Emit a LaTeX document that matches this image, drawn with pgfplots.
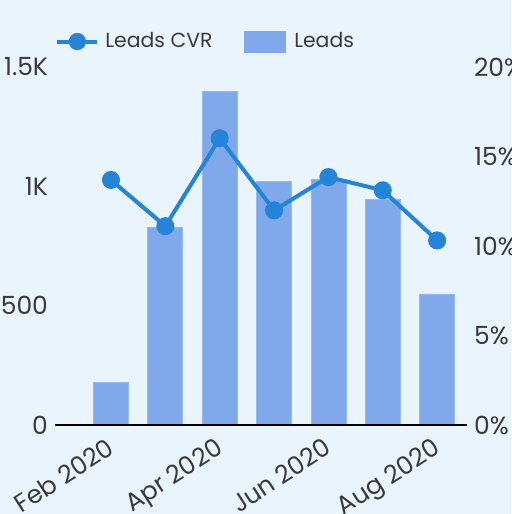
\documentclass[border=0pt]{standalone}
\usepackage{pgfplots}
\pgfplotsset{compat=1.18}
\usepackage{fontspec}
\setmainfont{Poppins}
\definecolor{bgcol}{RGB}{234,244,253}
\definecolor{barcol}{RGB}{127,169,235}
\definecolor{baredge}{RGB}{150,185,240}
\definecolor{linecol}{RGB}{38,132,216}
\definecolor{txtcol}{RGB}{58,58,58}
\begin{document}
\begin{tikzpicture}
\fill[bgcol] (-27.5pt,-44.5pt) rectangle (228pt,212.5pt);
\begin{axis}[
  at={(0,0)}, anchor=south west,
  scale only axis, width=206pt, height=179pt,
  xmin=-1.03, xmax=6.55, ymin=0, ymax=1500,
  axis line style={draw=none}, tick style={draw=none},
  ytick={0,500,1000,1500}, yticklabels={0,500,1K,1.5K},
  xtick={0,2,4,6}, xticklabels={Feb 2020,Apr 2020,Jun 2020,Aug 2020},
  x tick label style={rotate=33, anchor=north east, xshift=-2pt},
  tick label style={font=\fontsize{12.5}{14}\selectfont, text=txtcol},
  /pgf/number format/assume math mode=true,
]
\addplot[ybar, bar width=17.5pt, fill=barcol, draw=baredge, line width=0.4pt] coordinates {
(0,179) (1,826) (2,1398) (3,1021) (4,1029) (5,945) (6,549)};
\end{axis}
\begin{axis}[
  at={(0,0)}, anchor=south west,
  scale only axis, width=206pt, height=179pt,
  xmin=-1.03, xmax=6.55, ymin=0, ymax=20,
  axis line style={draw=none}, tick style={draw=none},
  xtick=\empty,
  ytick={0,5,10,15,20}, yticklabels={0\%,5\%,10\%,15\%,20\%},
  yticklabel pos=right,
  tick label style={font=\fontsize{12.5}{14}\selectfont, text=txtcol},
  /pgf/number format/assume math mode=true,
  legend columns=2,
  legend style={at={(axis description cs:0.0,1.0712)}, anchor=west, draw=none, fill=none, inner sep=0pt,
    font=\fontsize{10.2}{12}\selectfont, text=txtcol,
    /tikz/every even column/.append style={column sep=14pt}},
]
\draw[black, line width=1.25pt] (rel axis cs:0,0) -- (rel axis cs:1,0);
\addplot[linecol, line width=2pt, mark=*, mark size=3.5pt, mark options={draw=none, fill=linecol},
  legend image code/.code={\draw[linecol, line width=2pt] (0pt,0pt) -- (20pt,0pt); \fill[linecol] (10pt,0pt) circle (3.3pt); \path (21pt,0pt);}]
coordinates {(0,13.69) (1,11.11) (2,16.02) (3,11.99) (4,13.85) (5,13.11) (6,10.31)};
\addlegendentry{Leads CVR}
\addlegendimage{legend image code/.code={\fill[barcol] (0pt,-5.25pt) rectangle (20.5pt,5.25pt); \path (22.5pt,0pt);}}
\addlegendentry{Leads}
\end{axis}
\pgfresetboundingbox
\path[use as bounding box] (-27.5pt,-44.5pt) rectangle (228pt,212.5pt);
\end{tikzpicture}
\end{document}
